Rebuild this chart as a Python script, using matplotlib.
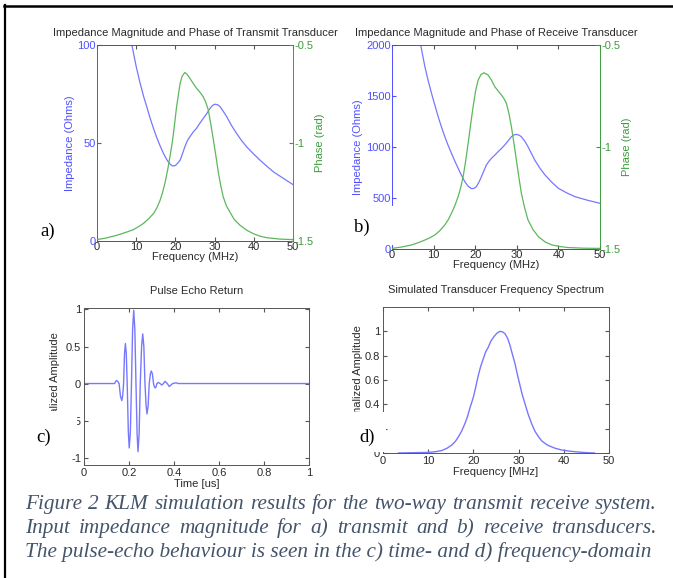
import matplotlib
matplotlib.use('Agg')
import matplotlib.pyplot as plt
from matplotlib.patches import Rectangle
from matplotlib.lines import Line2D

plt.rcParams['font.family'] = ['Liberation Sans', 'DejaVu Sans']
plt.rcParams['axes.unicode_minus'] = False

W, H = 673, 578

# a) transmit transducer impedance / phase
freq_a_imp = [7.5, 8.9, 10, 11, 12, 12.7, 13.5, 14.4, 15.2, 16.1, 17, 17.8, 18.5, 19.2, 19.9,
              20.5, 21.2, 21.8, 22.4, 23, 23.7, 24.5, 25.4, 26.2, 27.1, 28, 28.8, 29.5, 30.1,
              30.8, 31.4, 32.2, 33.1, 34.3, 35.6, 36.9, 38.2, 39.9, 41.6, 43.3, 45, 47.5, 50]
imp_a = [118, 100, 89, 80.5, 73, 68.5, 63, 57.5, 53, 48.5, 44.5, 41.5, 39.5, 38.3, 38.4,
         39.5, 41.2, 44.5, 48, 51, 53.2, 55.5, 57.5, 60, 62.5, 65, 67.6, 69.2, 69.8,
         69.5, 68.5, 66.2, 63.4, 59, 54.9, 51.2, 48, 44.5, 41.2, 38.2, 35.3, 32, 28.8]
freq_a_ph = [0, 2.5, 5, 7.5, 9.3, 10.5, 11.8, 13.1, 14.4, 15.3, 16.1, 16.7, 17.3, 18.0, 18.6,
             19.1, 19.5, 19.9, 20.3, 20.8, 21.2, 21.7, 22.4, 23.0, 23.7, 24.5, 25.4, 26.3,
             27.1, 27.8, 28.4, 29.0, 29.7, 30.4, 31.0, 31.6, 32.2, 33.0, 33.9, 35.0, 36.5,
             38.2, 39.9, 41.5, 43.3, 46.5, 50]
phase_a = [-1.493, -1.484, -1.471, -1.455, -1.442, -1.428, -1.411, -1.388, -1.360, -1.330,
           -1.292, -1.255, -1.207, -1.140, -1.071, -1.010, -0.952, -0.885, -0.815, -0.750,
           -0.696, -0.660, -0.640, -0.650, -0.670, -0.695, -0.721, -0.742, -0.764, -0.795,
           -0.832, -0.900, -0.986, -1.075, -1.156, -1.220, -1.275, -1.320, -1.352, -1.390,
           -1.420, -1.445, -1.463, -1.475, -1.483, -1.490, -1.493]

# b) receive transducer impedance / phase
freq_b_imp = [6.0, 6.9, 7.9, 8.7, 9.5, 10.3, 11.1, 11.9, 12.7, 13.5, 14.3, 15.1, 15.9, 16.7,
              17.5, 18.3, 19.1, 19.7, 20.3, 20.9, 21.5, 22.1, 22.7, 23.3, 23.9, 24.7, 25.5,
              26.3, 27.1, 27.9, 28.7, 29.3, 29.8, 30.5, 31.1, 31.9, 32.7, 33.5, 34.3, 35.5,
              36.8, 38.4, 40.0, 42.0, 44.0, 47.0, 50]
imp_b = [2250, 2000, 1788, 1650, 1526, 1410, 1297, 1195, 1101, 1015, 938, 862, 791, 722,
         660, 615, 592, 594, 613, 655, 709, 768, 824, 860, 889, 920, 954,
         985, 1020, 1060, 1101, 1118, 1124, 1117, 1101, 1058, 1003, 938, 873, 795,
         725, 655, 595, 550, 513, 478, 448]
freq_b_ph = [0, 2.4, 4.7, 6.3, 7.9, 9.1, 10.3, 11.5, 12.7, 13.5, 14.3, 15.1, 15.9, 16.5, 17.1,
             17.7, 18.3, 18.9, 19.5, 20.1, 20.7, 21.4, 22.1, 23.1, 23.9, 24.7, 25.5, 26.3,
             26.9, 27.5, 28.1, 28.7, 29.3, 29.9, 30.5, 31.1, 31.9, 32.7, 33.9, 35.2, 36.8,
             38.4, 40.4, 42.4, 46, 50]
phase_b = [-1.497, -1.490, -1.480, -1.469, -1.456, -1.445, -1.431, -1.410, -1.382, -1.357,
           -1.325, -1.288, -1.243, -1.200, -1.145, -1.070, -0.982, -0.890, -0.802, -0.725,
           -0.672, -0.645, -0.636, -0.647, -0.672, -0.704, -0.725, -0.745, -0.762, -0.786,
           -0.835, -0.900, -0.980, -1.064, -1.148, -1.227, -1.300, -1.358, -1.405, -1.440,
           -1.465, -1.480, -1.488, -1.493, -1.496, -1.497]

# c) pulse echo (time in us)
time_c = [0, 0.136, 0.141, 0.145, 0.150, 0.156, 0.162, 0.168, 0.172, 0.176, 0.180, 0.184,
          0.188, 0.192, 0.197, 0.201, 0.206, 0.211, 0.216, 0.221, 0.226, 0.231, 0.236, 0.240,
          0.245, 0.250, 0.256, 0.261, 0.266, 0.271, 0.276, 0.280, 0.285, 0.290, 0.295, 0.299,
          0.304, 0.309, 0.313, 0.317, 0.321, 0.324, 0.330, 0.338, 0.346, 0.353, 0.360, 0.370,
          0.379, 0.394, 0.409, 0.42, 1.0]
amp_c = [0, 0, 0.03, 0.04, 0.03, 0, -0.17, -0.23, -0.16, 0, 0.4, 0.54,
         0.4, 0, -0.65, -0.87, -0.65, 0, 0.73, 0.99, 0.73, 0, -0.68, -0.92,
         -0.68, 0, 0.5, 0.67, 0.5, 0, -0.3, -0.41, -0.3, 0, 0.13, 0.17,
         0.13, 0, -0.045, -0.06, -0.04, 0, 0.015, 0, -0.02, 0, 0.03, 0,
         -0.04, 0, 0.01, 0, 0]

# d) spectrum
freq_d = [3.4, 10.0, 11.5, 13.0, 14.2, 15.2, 16.0, 16.7, 17.4, 18.1, 18.7, 19.2, 20.0, 20.5,
          21.1, 21.6, 22.2, 22.7, 23.3, 23.8, 24.4, 25.2, 25.9, 26.5, 27.0, 27.6, 28.1, 28.6,
          29.2, 29.7, 30.3, 30.8, 31.4, 32.1, 32.9, 33.6, 34.4, 35.1, 35.8, 36.5, 38.0, 39.5,
          41.3, 43.2, 45.0, 46.8]
spec_d = [0, 0.005, 0.01, 0.02, 0.04, 0.065, 0.095, 0.134, 0.18, 0.24, 0.3, 0.366, 0.46, 0.54,
          0.64, 0.71, 0.776, 0.83, 0.87, 0.915, 0.95, 0.985, 1.0, 0.995, 0.98, 0.94, 0.885, 0.815,
          0.735, 0.65, 0.557, 0.48, 0.407, 0.32, 0.24, 0.18, 0.134, 0.1, 0.08, 0.063, 0.04, 0.025,
          0.015, 0.008, 0.003, 0]

caption = ["Figure 2 KLM simulation results for the two-way transmit receive system.",
           "Input impedance magnitude for a) transmit and b) receive transducers.",
           "The pulse-echo behaviour is seen in the c) time- and d) frequency-domain"]

BLUE_LINE = '#7777ff'
BLUE = '#4f4fff'
GREEN_LINE = '#5cb85c'
GREEN = '#3d9c3d'
DARK = '#2a2a2a'
SPINE = '#555555'
CAP = '#44546a'


def rect(x0, y0, x1, y1):
    return [x0 / W, 1 - y1 / H, (x1 - x0) / W, (y1 - y0) / H]


def fx(x):
    return x / W


def fy(y):
    return 1 - y / H


fig = plt.figure(figsize=(W / 100, H / 100), dpi=100)


def imp_panel(box, fz, z, fp, ph, zmax, zticks, title, ylx, yrx):
    ax = fig.add_axes(rect(*box))
    ax.plot(fz, z, color=BLUE_LINE, lw=0.9)
    ax.set_xlim(0, 50)
    ax.set_ylim(0, zmax)
    ax.set_xticks(range(0, 51, 10))
    ax.set_yticks(zticks)
    ax.tick_params(axis='x', direction='in', top=True, length=3, color=SPINE,
                   labelcolor=DARK, labelsize=8, pad=1)
    ax.tick_params(axis='y', direction='in', length=3, color=BLUE,
                   labelcolor=BLUE, labelsize=8, pad=1)
    for s in ['top', 'bottom']:
        ax.spines[s].set_color(SPINE)
    ax.spines['left'].set_color(BLUE)
    ax.spines['right'].set_color(GREEN)
    for s in ax.spines.values():
        s.set_linewidth(0.7)
    ax.set_xlabel('Frequency (MHz)', fontsize=8, color=DARK, labelpad=0)
    ax.set_ylabel('Impedance (Ohms)', fontsize=8, color=BLUE)
    ax.yaxis.set_label_coords(ylx, 0.5)
    ax2 = ax.twinx()
    ax2.plot(fp, ph, color=GREEN_LINE, lw=0.9)
    ax2.set_ylim(-1.5, -0.5)
    ax2.set_yticks([-1.5, -1, -0.5])
    ax2.set_yticklabels(['-1.5', '-1', '-0.5'])
    ax2.tick_params(axis='y', direction='in', length=3, color=GREEN,
                    labelcolor=GREEN, labelsize=8, pad=1)
    for s in ax2.spines.values():
        s.set_visible(False)
    ax2.set_ylabel('Phase (rad)', fontsize=8, color=GREEN)
    ax2.yaxis.set_label_coords(yrx, 0.5)
    x0, y0, x1, y1 = box
    fig.text(fx((x0 + x1) / 2), fy(y0 - 12), title, ha='center', va='center',
             fontsize=8, color=DARK)
    return ax


imp_panel((97, 45, 293, 241), freq_a_imp, imp_a, freq_a_ph, phase_a, 100, [0, 50, 100],
          'Impedance Magnitude and Phase of Transmit Transducer', -0.11, 1.11)
imp_panel((392, 45, 600, 249), freq_b_imp, imp_b, freq_b_ph, phase_b, 2000,
          [0, 500, 1000, 1500, 2000],
          'Impedance Magnitude and Phase of Receive Transducer', -0.14, 1.105)


def simple_panel(box, x, y, xlim, ylim, xticks, yticks, xlabels, ylabels, title, xlab, ylx):
    ax = fig.add_axes(rect(*box))
    ax.plot(x, y, color=BLUE_LINE, lw=1.0)
    ax.set_xlim(*xlim)
    ax.set_ylim(*ylim)
    ax.set_xticks(xticks)
    ax.set_xticklabels(xlabels)
    ax.set_yticks(yticks)
    ax.set_yticklabels(ylabels)
    ax.tick_params(direction='in', top=True, right=True, length=3, color=SPINE,
                   labelcolor=DARK, labelsize=8, pad=2)
    for s in ax.spines.values():
        s.set_color(SPINE)
        s.set_linewidth(0.7)
    ax.set_xlabel(xlab, fontsize=8, color=DARK, labelpad=1)
    ax.set_ylabel('Normalized Amplitude', fontsize=8, color=DARK)
    ax.yaxis.set_label_coords(ylx, 0.5)
    x0, y0, x1, y1 = box
    fig.text(fx((x0 + x1) / 2), fy(y0 - 17), title, ha='center', va='center',
             fontsize=8, color=DARK)
    return ax


simple_panel((84, 308, 309, 465), time_c, amp_c, (0, 1), (-1.1, 1.02),
             [0, 0.2, 0.4, 0.6, 0.8, 1], [-1, -0.5, 0, 0.5, 1],
             ['0', '0.2', '0.4', '0.6', '0.8', '1'], ['-1', '-0.5', '0', '0.5', '1'],
             'Pulse Echo Return', 'Time [us]', -0.105)
axd = simple_panel((383, 307, 609, 453), freq_d, spec_d, (0, 50), (0, 1.2),
                   [0, 10, 20, 30, 40, 50], [0, 0.2, 0.4, 0.6, 0.8, 1],
                   ['0', '10', '20', '30', '40', '50'], ['0', '0.2', '0.4', '0.6', '0.8', '1'],
                   'Simulated Transducer Frequency Spectrum', 'Frequency [MHz]', -0.09)
axd.lines[0].set_clip_on(False)

# white cover boxes with panel letters
covers = [(10, 411, 77, 451), (345, 206, 394, 245), (340, 412, 386, 452)]
for x0, y0, x1, y1 in covers:
    fig.add_artist(Rectangle((fx(x0), fy(y1)), (x1 - x0) / W, (y1 - y0) / H,
                             transform=fig.transFigure, facecolor='white',
                             edgecolor='none', zorder=10))
serif = ['Liberation Serif', 'DejaVu Serif']
for lab, x, y in [('a)', 48, 231), ('b)', 362, 227), ('c)', 44, 437), ('d)', 367, 437)]:
    fig.text(fx(x), fy(y), lab, ha='center', va='center', fontsize=13.5,
             family=serif, color='black', zorder=11)

# frame lines
fig.add_artist(Line2D([fx(5), fx(5)], [fy(5), 0], transform=fig.transFigure,
                      color='black', lw=1.6))
fig.add_artist(Line2D([fx(4), 1], [fy(6), fy(6)], transform=fig.transFigure,
                      color='black', lw=1.8))

# justified caption
fig.canvas.draw()
renderer = fig.canvas.get_renderer()
left, right = 25, 657
size = 15
probe = fig.text(0, 0, caption[2], fontsize=size, family=serif, style='italic')
wpx = probe.get_window_extent(renderer).width
probe.remove()
size = size * (629 / wpx)

baselines = [509, 533, 557]
for i, line in enumerate(caption):
    if i < 2:
        words = line.split(' ')
        widths = []
        for w in words:
            t = fig.text(0, 0, w, fontsize=size, family=serif, style='italic')
            widths.append(t.get_window_extent(renderer).width)
            t.remove()
        gap = (right - left - sum(widths)) / (len(words) - 1)
        x = left
        for w, wd in zip(words, widths):
            fig.text(fx(x), fy(baselines[i]), w, fontsize=size, family=serif,
                     style='italic', color=CAP, va='baseline', ha='left')
            x += wd + gap
    else:
        fig.text(fx(left), fy(baselines[i]), line, fontsize=size, family=serif,
                 style='italic', color=CAP, va='baseline', ha='left')

fig.savefig('out.png', dpi=100)
